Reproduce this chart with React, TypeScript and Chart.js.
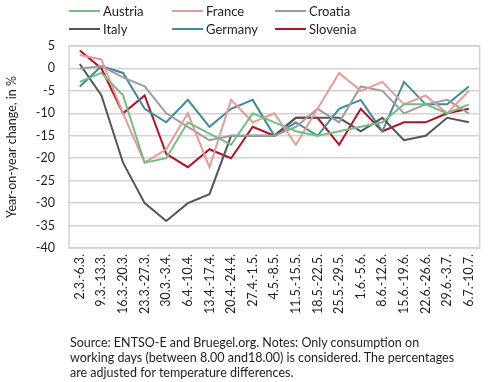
import React, { useEffect, useRef } from "react";
import { Chart, registerables } from "chart.js";

Chart.register(...registerables);

const categories = [
  "2.3.-6.3.", "9.3.-13.3.", "16.3.-20.3.", "23.3.-27.3.", "30.3.-3.4.",
  "6.4.-10.4.", "13.4.-17.4.", "20.4.-24.4.", "27.4.-1.5.", "4.5.-8.5.",
  "11.5.-15.5.", "18.5.-22.5.", "25.5.-29.5.", "1.6.-5.6.", "8.6.-12.6.",
  "15.6.-19.6.", "22.6.-26.6.", "29.6.-3.7.", "6.7.-10.7.",
];

const austria = [-3, -1, -6, -21, -20, -12, -14.5, -17, -10, -12, -14, -15, -14, -13, -12, -8, -8, -10, -8];
const france = [3, 2, -10, -21, -18, -10, -22, -7, -12, -10, -17, -9, -1, -5, -3, -8, -6, -10, -5];
const croatia = [0, 0.5, -2, -4, -10, -13, -16, -15, -15, -15, -13, -9, -12, -4, -5, -10, -8, -7, -10];
const italy = [1, -6, -21, -30, -34, -30, -28, -15, -15, -15, -11, -11, -11, -14, -11, -16, -15, -11, -12];
const germany = [-4, 0.5, -1, -9, -12, -7, -13, -9, -7, -15, -12, -15, -9, -7, -14, -3, -8, -8, -4];
const slovenia = [4, 0, -10, -6, -19, -22, -18, -20, -13, -15, -11, -11, -17, -9, -14, -12, -12, -10, -9];

const seriesNames = ["Austria", "France", "Croatia", "Italy", "Germany", "Slovenia"];
const seriesColors = ["#74be86", "#e69b97", "#9d9d9d", "#555555", "#3b8d99", "#b01228"];
const seriesData = [austria, france, croatia, italy, germany, slovenia];

const yMin = -40;
const yMax = 5;
const yStep = 5;

const noteLines = [
  "Source: ENTSO-E and Bruegel.org. Notes: Only consumption on",
  "working days (between 8.00 and18.00) is considered. The percentages",
  "are adjusted for temperature differences.",
];

const FONT = "Lato, 'Open Sans', sans-serif";
const TEXT = "#1e1e1e";
const GRID = "#d2d2d2";

const legendPos = [
  { x: 69, y: 11 }, { x: 172, y: 11 }, { x: 275, y: 11 },
  { x: 69, y: 29 }, { x: 172, y: 29 }, { x: 275, y: 29 },
];

const borderPlugin = {
  id: "plotBorder",
  beforeDatasetsDraw(chart: any) {
    const { ctx, chartArea } = chart;
    ctx.save();
    ctx.strokeStyle = GRID;
    ctx.lineWidth = 1.5;
    ctx.strokeRect(chartArea.left, chartArea.top, chartArea.right - chartArea.left, chartArea.bottom - chartArea.top);
    ctx.restore();
  },
};

export default function App() {
  const ref = useRef<HTMLCanvasElement | null>(null);

  useEffect(() => {
    document.body.style.margin = "0";
    const canvas = ref.current;
    if (!canvas) return;
    const chart = new Chart(canvas, {
      type: "line",
      data: {
        labels: categories,
        datasets: seriesData.map((d, i) => ({
          label: seriesNames[i],
          data: d,
          borderColor: seriesColors[i],
          backgroundColor: seriesColors[i],
          borderWidth: 2,
          pointRadius: 0,
          tension: 0,
          fill: false,
        })),
      },
      options: {
        animation: false,
        responsive: false,
        devicePixelRatio: 1,
        layout: { padding: { top: 46, right: 7, bottom: 54, left: 0 } },
        plugins: {
          legend: { display: false },
          tooltip: { enabled: false },
        },
        scales: {
          x: {
            type: "category",
            offset: true,
            grid: { display: false, drawTicks: false },
            border: { display: false },
            ticks: {
              minRotation: 90,
              maxRotation: 90,
              autoSkip: false,
              padding: 6,
              color: TEXT,
              font: { family: FONT, size: 12.5 },
            },
            afterFit(scale: any) {
              scale.height = 80;
            },
          },
          y: {
            min: yMin,
            max: yMax,
            grid: { color: GRID, lineWidth: 1.5, drawTicks: false },
            border: { display: false },
            ticks: {
              stepSize: yStep,
              padding: 14,
              color: TEXT,
              font: { family: FONT, size: 12.5 },
            },
            title: {
              display: true,
              text: "Year-on-year change, in %",
              color: TEXT,
              font: { family: FONT, size: 12.5 },
              padding: { top: 4, bottom: 0 },
            },
            afterFit(scale: any) {
              scale.width = 69;
            },
          },
        },
      },
      plugins: [borderPlugin],
    });
    return () => chart.destroy();
  }, []);

  return (
    <div style={{ position: "fixed", left: 0, top: 0, width: 490, height: 382, background: "#fff", overflow: "hidden", fontFamily: FONT, color: TEXT }}>
      <canvas ref={ref} width={490} height={382} style={{ position: "absolute", left: 0, top: 0, width: 490, height: 382 }} />
      {seriesNames.map((n, i) => (
        <div key={n} style={{ position: "absolute", left: legendPos[i].x, top: legendPos[i].y - 9, height: 18, display: "flex", alignItems: "center", whiteSpace: "nowrap", fontSize: 13 }}>
          <span style={{ display: "inline-block", width: 31, height: 2, background: seriesColors[i], marginRight: 3 }} />
          <span>{n}</span>
        </div>
      ))}
      <div style={{ position: "absolute", left: 70, top: 335, fontSize: 12.5, lineHeight: "15px", whiteSpace: "nowrap" }}>
        {noteLines.map((l, i) => (
          <div key={i}>{l}</div>
        ))}
      </div>
    </div>
  );
}
